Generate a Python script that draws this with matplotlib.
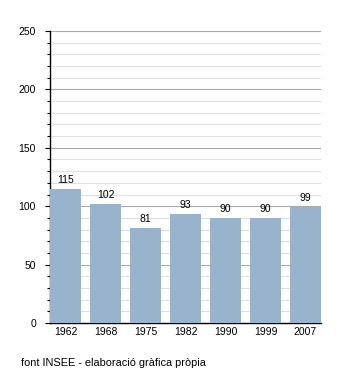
import matplotlib.pyplot as plt
from matplotlib.ticker import MultipleLocator

plt.rcParams['font.family'] = ['Liberation Sans', 'DejaVu Sans']

years = ['1962', '1968', '1975', '1982', '1990', '1999', '2007']
poblacio = [115, 102, 81, 93, 90, 90, 99]

fig = plt.figure(figsize=(3.5, 3.73), dpi=100)
ax = fig.add_axes([50 / 350, 50 / 373, 271 / 350, 292 / 373])

x = range(len(years))
bars = ax.bar(x, poblacio, width=0.775, color='#99b3cc', zorder=3)
for b, v in zip(bars, poblacio):
    ax.annotate(str(v), (b.get_x() + b.get_width() / 2, v), xytext=(0, 3),
                textcoords='offset points', ha='center', va='bottom', fontsize=7.5)

ax.set_xlim(-0.3875, len(years) - 1 + 0.3875)
ax.set_ylim(0, 250)
ax.set_xticks(list(x))
ax.set_xticklabels(years)
ax.yaxis.set_major_locator(MultipleLocator(50))
ax.yaxis.set_minor_locator(MultipleLocator(10))
ax.grid(axis='y', which='minor', color='#e0e0e0', lw=0.8, zorder=0)
ax.grid(axis='y', which='major', color='#aaaaaa', lw=0.8, zorder=1)
ax.tick_params(axis='y', which='major', length=3.6, width=0.8, labelsize=7.5, pad=6.5)
ax.tick_params(axis='y', which='minor', length=2.2, width=0.8)
ax.tick_params(axis='x', length=0, labelsize=7.5, pad=3)
for s in ['top', 'right']:
    ax.spines[s].set_visible(False)
ax.spines['left'].set_linewidth(1)
ax.spines['bottom'].set_linewidth(1)

fig.text(21 / 350, 1 - 363 / 373, 'font INSEE - elaboració gràfica pròpia',
         fontsize=7.9, va='center', ha='left')

fig.savefig('out.png', dpi=100)
